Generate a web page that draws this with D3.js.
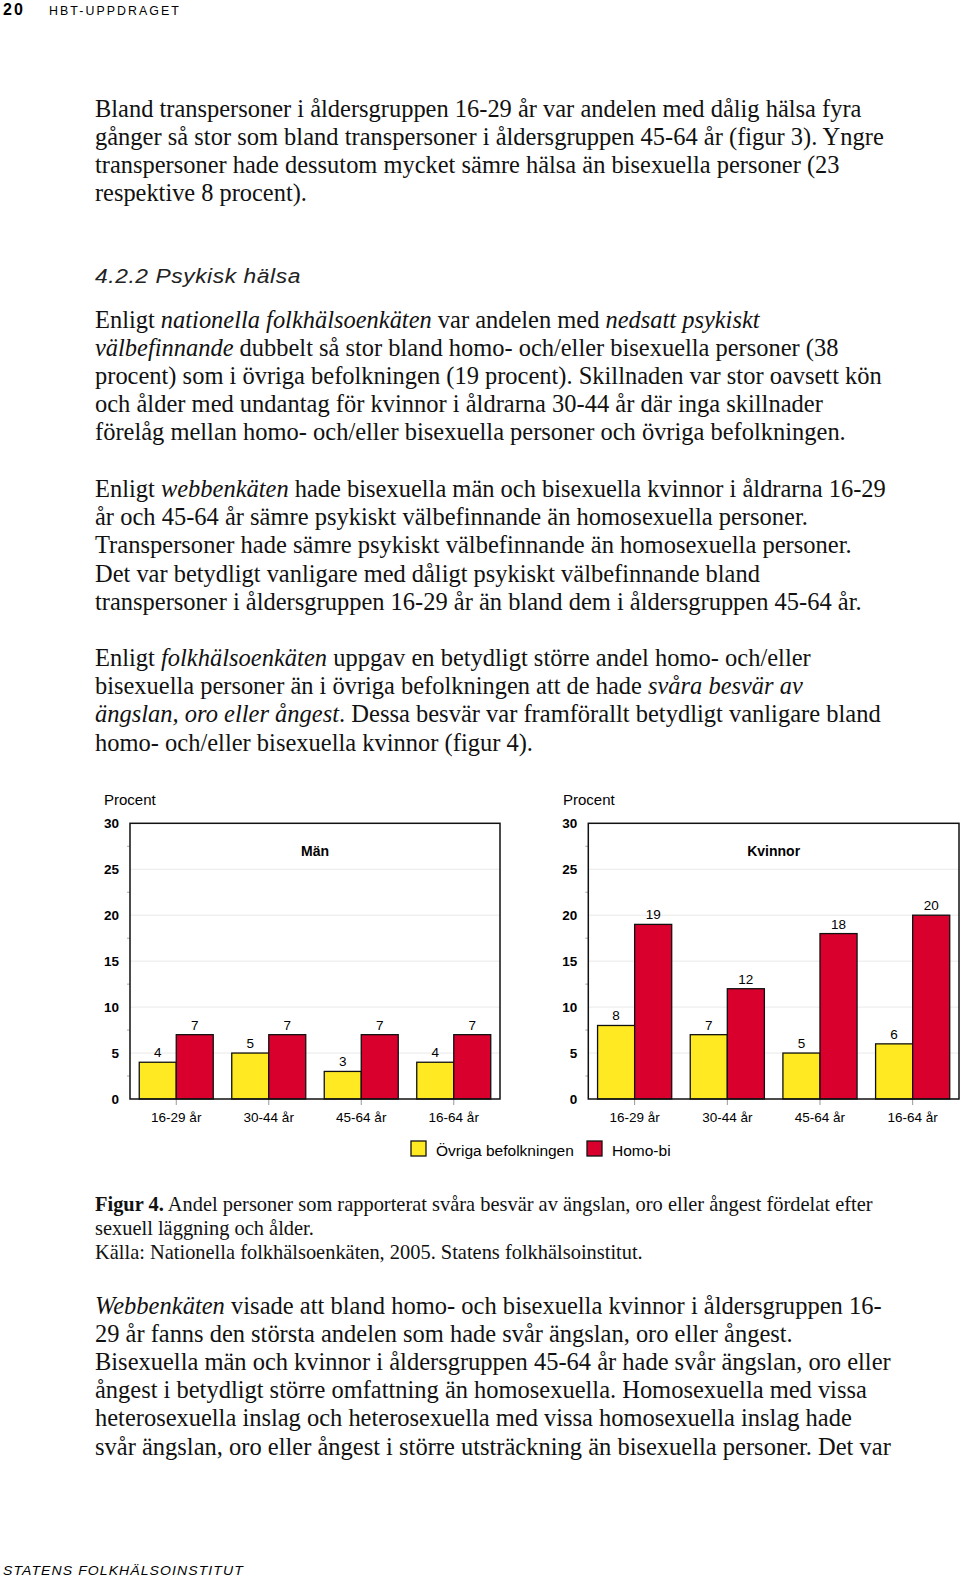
<!DOCTYPE html>
<html>
<head>
<meta charset="utf-8">
<script src="https://cdn.jsdelivr.net/npm/d3@7"></script>
<style>
  body { margin: 0; background: #fff; }
  svg { display: block; }
</style>
</head>
<body>
<script>
// chart data
var ageGroups = ["16-29 år", "30-44 år", "45-64 år", "16-64 år"];
var seriesNames = ["Övriga befolkningen", "Homo-bi"];
var manOvriga = [4, 5, 3, 4];
var manHomo = [7, 7, 7, 7];
var kvinnorOvriga = [8, 7, 5, 6];
var kvinnorHomo = [19, 12, 18, 20];
var yTicks = [0, 5, 10, 15, 20, 25, 30];

// page text, one entry per printed line: [text, right edge]
var para1 = [
  ["Bland transpersoner i åldersgruppen 16-29 år var andelen med dålig hälsa fyra", 862],
  ["gånger så stor som bland transpersoner i åldersgruppen 45-64 år (figur 3). Yngre", 884],
  ["transpersoner hade dessutom mycket sämre hälsa än bisexuella personer (23", 840],
  ["respektive 8 procent).", 307]
];
var para2 = [
  ["Enligt *nationella folkhälsoenkäten* var andelen med *nedsatt psykiskt*", 760],
  ["*välbefinnande* dubbelt så stor bland homo- och/eller bisexuella personer (38", 839],
  ["procent) som i övriga befolkningen (19 procent). Skillnaden var stor oavsett kön", 882],
  ["och ålder med undantag för kvinnor i åldrarna 30-44 år där inga skillnader", 823],
  ["förelåg mellan homo- och/eller bisexuella personer och övriga befolkningen.", 846]
];
var para3 = [
  ["Enligt *webbenkäten* hade bisexuella män och bisexuella kvinnor i åldrarna 16-29", 886],
  ["år och 45-64 år sämre psykiskt välbefinnande än homosexuella personer.", 808],
  ["Transpersoner hade sämre psykiskt välbefinnande än homosexuella personer.", 852],
  ["Det var betydligt vanligare med dåligt psykiskt välbefinnande bland", 760],
  ["transpersoner i åldersgruppen 16-29 år än bland dem i åldersgruppen 45-64 år.", 862]
];
var para4 = [
  ["Enligt *folkhälsoenkäten* uppgav en betydligt större andel homo- och/eller", 811],
  ["bisexuella personer än i övriga befolkningen att de hade *svåra besvär av*", 803],
  ["*ängslan, oro eller ångest*. Dessa besvär var framförallt betydligt vanligare bland", 881],
  ["homo- och/eller bisexuella kvinnor (figur 4).", 533]
];
var caption = [
  ["#Figur 4.# Andel personer som rapporterat svåra besvär av ängslan, oro eller ångest fördelat efter", 873],
  ["sexuell läggning och ålder.", 314],
  ["Källa: Nationella folkhälsoenkäten, 2005. Statens folkhälsoinstitut.", 643]
];
var para5 = [
  ["*Webbenkäten* visade att bland homo- och bisexuella kvinnor i åldersgruppen 16-", 882],
  ["29 år fanns den största andelen som hade svår ängslan, oro eller ångest.", 793],
  ["Bisexuella män och kvinnor i åldersgruppen 45-64 år hade svår ängslan, oro eller", 891],
  ["ångest i betydligt större omfattning än homosexuella. Homosexuella med vissa", 867],
  ["heterosexuella inslag och heterosexuella med vissa homosexuella inslag hade", 852],
  ["svår ängslan, oro eller ångest i större utsträckning än bisexuella personer. Det var", 891]
];

var w = 960;
var h = 1579;
var yellow = "#ffe923";
var red = "#d9002e";
var serif = "'Liberation Serif', 'Times New Roman', serif";
var sans = "'Liberation Sans', Arial, sans-serif";

var svg = d3.select("body")
    .append("svg")
    .attr("width", w)
    .attr("height", h);

svg.append("rect").attr("width", w).attr("height", h).attr("fill", "#fff");

// squeeze a line between x0 and x1
function fitLine(sel, x0, x1, y) {
    var len = sel.node().getComputedTextLength();
    sel.attr("transform", "translate(" + x0 + "," + y + ") scale(" + ((x1 - x0) / len) + ",1)");
}

function drawPara(lines, y0, step, size) {
    var g = svg.append("g").attr("class", "para");
    lines.forEach((line, i) => {
        var t = g.append("text")
            .attr("x", 0).attr("y", 0)
            .style("font-family", serif)
            .style("font-size", size + "px")
            .attr("fill", "#111");
        // *italic*  #bold#
        line[0].split(/(\*[^*]+\*|#[^#]+#)/).forEach(part => {
            if (!part) return;
            var s = t.append("tspan");
            if (part[0] === "*") s.style("font-style", "italic").text(part.slice(1, -1));
            else if (part[0] === "#") s.style("font-weight", "bold").text(part.slice(1, -1));
            else s.text(part);
        });
        t.style("white-space", "pre");
        fitLine(t, 95, line[1], y0 + i * step);
    });
}

// running header and footer
svg.append("text")
    .attr("x", 3).attr("y", 15)
    .style("font-family", sans).style("font-weight", "bold").style("font-size", "16px")
    .style("letter-spacing", "2px")
    .text("20");
var hdr = svg.append("text")
    .style("font-family", sans).style("font-size", "12px")
    .style("letter-spacing", "2px")
    .text("HBT-UPPDRAGET");
fitLine(hdr, 49, 181, 15);
var ftr = svg.append("text")
    .style("font-family", sans).style("font-size", "13px").style("font-style", "italic")
    .style("letter-spacing", "1px")
    .text("STATENS FOLKHÄLSOINSTITUT");
fitLine(ftr, 3, 244, 1575);

drawPara(para1, 116.5, 28.2, 25.5);

var head = svg.append("text")
    .style("font-family", sans).style("font-size", "21px").style("font-style", "italic")
    .style("letter-spacing", "0.5px")
    .attr("fill", "#222")
    .text("4.2.2 Psykisk hälsa");
fitLine(head, 95, 301, 283);

drawPara(para2, 327.5, 28.2, 25.5);
drawPara(para3, 497, 28.2, 25.5);
drawPara(para4, 666, 28.2, 25.5);
drawPara(caption, 1211, 24.2, 20.5);
drawPara(para5, 1313.5, 28.2, 25.5);

// charts
var y = d3.scaleLinear()
    .domain([0, 30])
    .range([1099, 823.3]);

function drawChart(left, right, title, ovriga, homo, labelX) {
    var g = svg.append("g").attr("class", "chart");
    var x = d3.scaleBand()
        .domain(ageGroups)
        .range([left, right])
        .paddingInner(0.2)
        .paddingOuter(0.1);
    var xs = d3.scaleBand()
        .domain(seriesNames)
        .range([0, x.bandwidth()]);

    g.append("text")
        .attr("x", labelX).attr("y", 805)
        .style("font-family", sans).style("font-size", "15px")
        .text("Procent");

    // grid
    g.selectAll(".grid")
        .data(yTicks.filter(d => d > 0 && d < 30))
        .enter()
        .append("line")
        .attr("x1", left).attr("x2", right)
        .attr("y1", d => y(d)).attr("y2", d => y(d))
        .attr("stroke", "#e9e9e9").attr("stroke-width", 1);

    // minor ticks
    g.selectAll(".minor")
        .data(d3.range(2.5, 30, 5))
        .enter()
        .append("line")
        .attr("x1", left - 3).attr("x2", left)
        .attr("y1", d => y(d)).attr("y2", d => y(d))
        .attr("stroke", "#aaa").attr("stroke-width", 1);

    g.selectAll(".ylab")
        .data(yTicks)
        .enter()
        .append("text")
        .attr("x", left - 11).attr("y", d => y(d) + 5)
        .attr("text-anchor", "end")
        .style("font-family", sans).style("font-size", "13.5px").style("font-weight", "bold")
        .text(d => d);

    // x ticks + labels
    g.selectAll(".xtick")
        .data(ageGroups)
        .enter()
        .append("line")
        .attr("x1", d => x(d) + x.bandwidth() / 2).attr("x2", d => x(d) + x.bandwidth() / 2)
        .attr("y1", y(0)).attr("y2", y(0) + 6)
        .attr("stroke", "#999").attr("stroke-width", 1);

    g.selectAll(".xlab")
        .data(ageGroups)
        .enter()
        .append("text")
        .attr("x", d => x(d) + x.bandwidth() / 2).attr("y", 1122)
        .attr("text-anchor", "middle")
        .style("font-family", sans).style("font-size", "13.5px")
        .text(d => d);

    var rows = [];
    ageGroups.forEach((a, i) => {
        rows.push({group: a, s: seriesNames[0], v: ovriga[i], c: yellow});
        rows.push({group: a, s: seriesNames[1], v: homo[i], c: red});
    });

    g.selectAll(".bar")
        .data(rows)
        .enter()
        .append("rect")
        .attr("x", d => x(d.group) + xs(d.s))
        .attr("y", d => y(d.v))
        .attr("width", xs.bandwidth())
        .attr("height", d => y(0) - y(d.v))
        .attr("fill", d => d.c)
        .attr("stroke", "#111").attr("stroke-width", 1.3);

    g.selectAll(".val")
        .data(rows)
        .enter()
        .append("text")
        .attr("x", d => x(d.group) + xs(d.s) + xs.bandwidth() / 2)
        .attr("y", d => y(d.v) - 5)
        .attr("text-anchor", "middle")
        .style("font-family", sans).style("font-size", "13.5px")
        .text(d => d.v);

    // frame
    g.append("rect")
        .attr("x", left).attr("y", y(30))
        .attr("width", right - left).attr("height", y(0) - y(30))
        .attr("fill", "none").attr("stroke", "#111").attr("stroke-width", 1.5);

    g.append("text")
        .attr("x", (left + right) / 2).attr("y", 856)
        .attr("text-anchor", "middle")
        .style("font-family", sans).style("font-size", "14px").style("font-weight", "bold")
        .text(title);
}

drawChart(130, 500, "Män", manOvriga, manHomo, 104);
drawChart(588.3, 959, "Kvinnor", kvinnorOvriga, kvinnorHomo, 563);

// legend
var legend = svg.append("g").attr("class", "legend");
var legX = [411, 587];
seriesNames.forEach((name, i) => {
    legend.append("rect")
        .attr("x", legX[i]).attr("y", 1141)
        .attr("width", 15).attr("height", 15)
        .attr("fill", i === 0 ? yellow : red)
        .attr("stroke", "#111").attr("stroke-width", 1.3);
    legend.append("text")
        .attr("x", legX[i] + 25).attr("y", 1156)
        .style("font-family", sans).style("font-size", "15.5px")
        .text(name);
});
</script>
</body>
</html>
